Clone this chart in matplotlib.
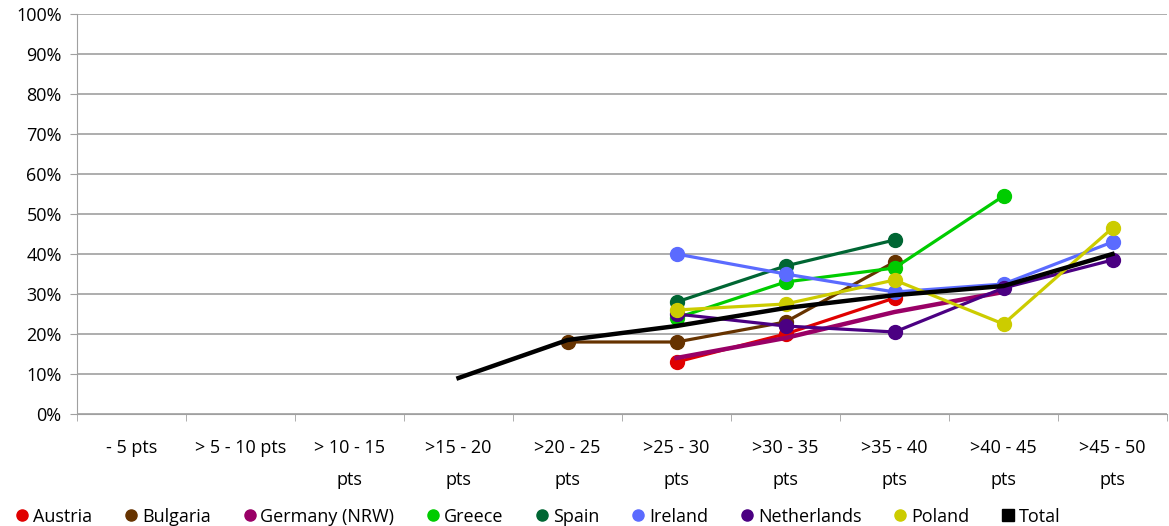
import numpy as np
import matplotlib.pyplot as plt
from matplotlib.lines import Line2D

categories = ["- 5 pts", "> 5 - 10 pts", "> 10 - 15\npts", ">15 - 20\npts", ">20 - 25\npts",
              ">25 - 30\npts", ">30 - 35\npts", ">35 - 40\npts", ">40 - 45\npts", ">45 - 50\npts"]

nan = np.nan
austria = [nan, nan, nan, nan, nan, 13, 20, 29, nan, nan]
bulgaria = [nan, nan, nan, nan, 18, 18, 23, 38, nan, nan]
germany = [nan, nan, nan, nan, nan, 14, 19, 25.5, 30.5, nan]
greece = [nan, nan, nan, nan, nan, 24, 33, 36.5, 54.5, nan]
spain = [nan, nan, nan, nan, nan, 28, 37, 43.5, nan, nan]
ireland = [nan, nan, nan, nan, nan, 40, 35, 30.5, 32.5, 43]
netherlands = [nan, nan, nan, nan, nan, 25, 22, 20.5, 31.5, 38.5]
poland = [nan, nan, nan, nan, nan, 26, 27.5, 33.5, 22.5, 46.5]
total = [nan, nan, nan, 9, 18.5, 22, 26.5, 29.7, 32, 40]

series = [
    ("Austria", austria, "#E00000"),
    ("Bulgaria", bulgaria, "#663300"),
    ("Germany (NRW)", germany, "#990066"),
    ("Greece", greece, "#00CC00"),
    ("Spain", spain, "#006633"),
    ("Ireland", ireland, "#5B6BFF"),
    ("Netherlands", netherlands, "#4B0082"),
    ("Poland", poland, "#CCCC00"),
]

plt.rcParams['font.family'] = ['Open Sans', 'DejaVu Sans']

fig = plt.figure(figsize=(11.69, 5.26), dpi=100)
ax = fig.add_axes([77 / 1169, 1 - 414 / 526, 1090 / 1169, 400 / 526])

x = np.arange(len(categories))
for name, vals, color in series:
    if name == "Germany (NRW)":
        # drawn without visible markers, slightly thicker line
        ax.plot(x, vals, color=color, lw=3.2, zorder=3)
    else:
        ax.plot(x, vals, color=color, lw=2.3, marker='o', ms=10, zorder=3)
ax.plot(x, total, color='black', lw=3.2, zorder=4)

ax.set_xlim(-0.5, len(categories) - 0.5)
ax.set_ylim(0, 100)
ax.set_yticks(np.arange(0, 101, 10))
ax.set_yticklabels([f"{v}%" for v in range(0, 101, 10)], fontsize=13)
ax.yaxis.grid(True, color='#A0A0A0', lw=1.2)
ax.set_axisbelow(True)

ax.set_xticks(x)
ax.set_xticklabels(categories, fontsize=13, linespacing=2.0)
ax.tick_params(axis='x', which='major', length=0, pad=18)
ax.set_xticks(np.arange(-0.5, len(categories)), minor=True)
ax.tick_params(axis='x', which='minor', length=5, color='#A0A0A0')
ax.tick_params(axis='y', length=5, color='#A0A0A0', pad=6)

for s in ['top', 'right']:
    ax.spines[s].set_visible(False)
ax.spines['left'].set_color('#A0A0A0')
ax.spines['bottom'].set_color('#A0A0A0')

handles = [Line2D([], [], ls='none', marker='o', ms=8, color=c) for _, _, c in series]
handles.append(Line2D([], [], ls='none', marker='s', ms=8, color='black'))
labels = [n for n, _, _ in series] + ["Total"]
fig.legend(handles, labels, loc='lower left', bbox_to_anchor=(-0.004, -0.03), ncol=9,
           frameon=False, fontsize=13, handletextpad=0.0, columnspacing=1.55,
           handlelength=1.2)

fig.savefig("out.png", dpi=100)
